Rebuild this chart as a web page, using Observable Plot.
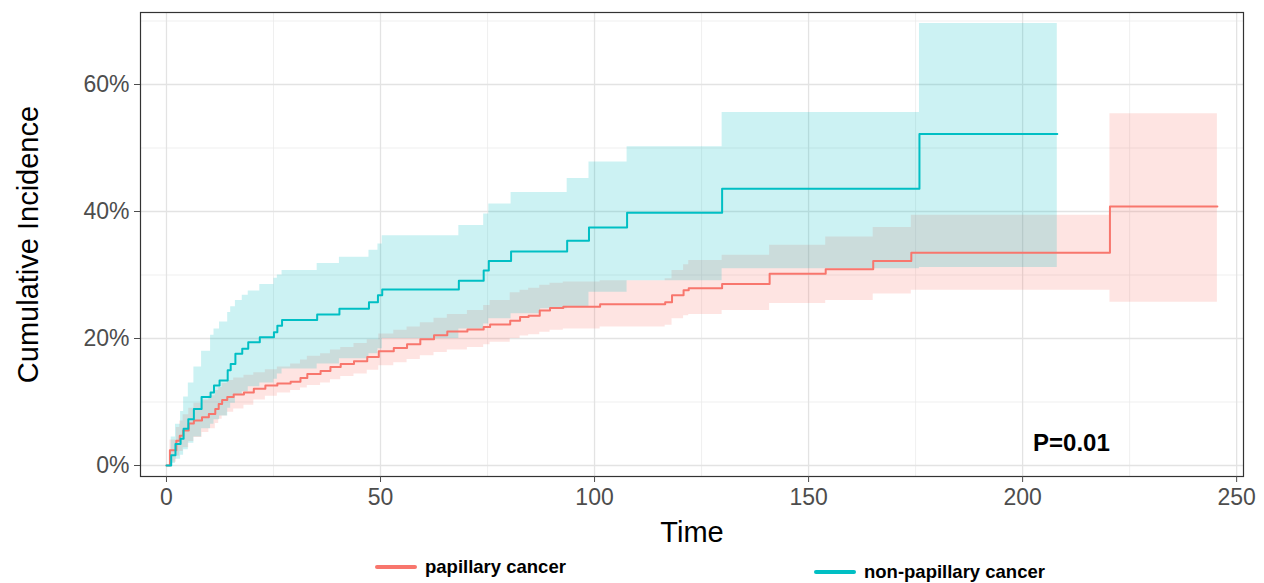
<!DOCTYPE html>
<html><head><meta charset="utf-8">
<script src="https://cdn.jsdelivr.net/npm/d3@7"></script>
<script src="https://cdn.jsdelivr.net/npm/@observablehq/plot@0.6"></script>
<style>
body{margin:0;background:#fff;font-family:Arial,"Liberation Sans",sans-serif;overflow:hidden;}
#chart svg{display:block;}
#legend{position:relative;width:1264px;height:33px;}
.item{position:absolute;display:flex;align-items:center;font-weight:bold;font-size:18.5px;color:#000;line-height:1;}
.swatch{width:42px;height:4px;margin-right:8px;border-radius:2px;}
</style></head><body>
<div id="chart"></div>
<div id="legend"></div>
<script>
const groups = ["papillary cancer", "non-papillary cancer"];
const colors = ["#F8766D", "#00BFC4"];

// papillary cancer
const papTime = [0, 0.8, 2.3, 3.1, 3.9, 5.2, 6.4, 8.3, 9.9, 11.4, 12.2, 13.0, 14.2, 15.7, 18.1, 20.4, 23.1, 25.9, 29.0, 31.3, 32.9, 36.0, 38.3, 40.7, 43.8, 46.9, 49.6, 53.1, 56.2, 59.3, 62.5, 65.6, 70.3, 74.1, 75.6, 80.3, 82.6, 84.6, 87.2, 89.6, 92.7, 101.3, 116.5, 118.1, 120.8, 122.0, 129.8, 140.9, 154.0, 165.1, 174.0, 220.4];
const papEst = [0, 2.4, 3.9, 4.7, 5.5, 6.6, 7.1, 7.6, 8.1, 8.9, 9.7, 10.3, 10.8, 11.2, 11.5, 12.1, 12.6, 12.9, 13.2, 13.8, 14.4, 14.9, 15.5, 16.0, 16.4, 17.1, 18.0, 18.5, 19.1, 19.9, 20.5, 21.1, 21.4, 21.8, 22.2, 22.8, 23.4, 23.6, 24.4, 24.8, 25.0, 25.4, 25.7, 26.8, 27.6, 27.9, 28.6, 30.2, 30.9, 32.2, 33.5, 40.8];
const papLower = [0, 0.5, 1.5, 2.2, 2.8, 3.8, 4.4, 5.2, 5.8, 6.6, 7.3, 7.8, 8.4, 8.9, 9.5, 10.3, 10.9, 11.4, 11.8, 12.2, 12.6, 13.0, 13.5, 14.0, 14.4, 15.0, 15.7, 16.2, 16.7, 17.3, 17.8, 18.2, 18.6, 19.0, 19.4, 20.0, 20.4, 20.6, 21.0, 21.3, 21.5, 21.8, 22.1, 23.1, 23.6, 23.8, 24.4, 25.5, 26.0, 27.0, 27.6, 25.7];
const papUpper = [0, 4.0, 6.0, 7.0, 8.0, 9.0, 9.8, 10.3, 11.0, 11.8, 12.3, 12.9, 13.4, 13.8, 14.2, 14.6, 15.1, 15.5, 16.0, 16.6, 17.2, 17.6, 18.2, 18.6, 19.2, 19.8, 20.7, 21.3, 21.8, 22.5, 23.2, 23.8, 24.4, 25.2, 26.0, 27.2, 27.6, 27.9, 28.4, 28.7, 28.9, 29.1, 29.4, 30.7, 31.6, 32.3, 33.1, 34.7, 36.0, 37.5, 39.4, 55.4];
const papEnd = 245.5;

// non-papillary cancer
const nonTime = [0, 1.1, 2.1, 3.3, 4.0, 5.1, 6.4, 8.2, 10.3, 11.1, 12.4, 14.3, 15.0, 16.1, 17.7, 19.1, 21.8, 25.1, 25.9, 27.0, 35.2, 40.4, 47.3, 49.4, 50.4, 68.3, 74.1, 75.3, 80.5, 87.4, 93.6, 98.7, 107.6, 129.8, 175.9];
const nonEst = [0, 1.6, 3.4, 4.2, 5.8, 7.3, 8.9, 10.8, 11.5, 12.6, 13.4, 15.0, 16.0, 17.6, 18.4, 19.4, 20.2, 21.0, 22.0, 22.9, 23.8, 24.7, 25.7, 26.8, 27.7, 29.1, 30.7, 32.2, 33.7, 33.7, 35.4, 37.5, 39.8, 43.6, 52.2];
const nonLower = [0, 0.3, 1.0, 1.6, 2.5, 3.5, 4.5, 5.8, 6.5, 7.2, 7.8, 9.0, 9.8, 11.0, 11.6, 12.4, 13.0, 13.6, 14.4, 15.2, 16.0, 16.8, 17.6, 18.4, 20.0, 21.5, 22.3, 23.1, 23.9, 24.7, 25.0, 27.3, 29.1, 31.0, 31.2];
const nonUpper = [0, 4.5, 6.5, 8.5, 10.8, 13.0, 15.5, 18.0, 20.5, 21.5, 22.6, 24.1, 25.0, 26.0, 26.8, 27.5, 28.5, 29.5, 30.0, 30.7, 31.8, 32.8, 33.9, 34.9, 36.2, 37.8, 39.6, 41.2, 43.0, 43.0, 45.2, 47.8, 50.2, 55.6, 69.6];
const nonEnd = 208.1;

const xTicks = [0, 50, 100, 150, 200, 250];
const xMinor = [25, 75, 125, 175, 225];
const yTicks = [0, 20, 40, 60];
const yMinor = [10, 30, 50, 70];
const pText = "P=0.01";
const pPos = {time: 211.4, value: 3.5};

function rows(time, est, lo, hi, end, group) {
  const r = time.map((t, i) => ({time: t, est: est[i], lo: lo[i], hi: hi[i], group}));
  const last = r[r.length - 1];
  r.push({...last, time: end});
  return r;
}
const pap = rows(papTime, papEst, papLower, papUpper, papEnd, groups[0]);
const non = rows(nonTime, nonEst, nonLower, nonUpper, nonEnd, groups[1]);

const chart = Plot.plot({
  width: 1264, height: 550,
  marginLeft: 140, marginRight: 21, marginTop: 12, marginBottom: 74,
  style: {fontFamily: "Arial, 'Liberation Sans', sans-serif", background: "#fff"},
  x: {domain: [-6.07, 251.6]},
  y: {domain: [-1.73, 71.34]},
  marks: [
    Plot.gridX(xMinor, {stroke: "#ebebeb", strokeOpacity: 1, strokeWidth: 0.8}),
    Plot.gridY(yMinor, {stroke: "#ebebeb", strokeOpacity: 1, strokeWidth: 0.8}),
    Plot.gridX(xTicks, {stroke: "#e3e3e3", strokeOpacity: 1, strokeWidth: 1.3}),
    Plot.gridY(yTicks, {stroke: "#e3e3e3", strokeOpacity: 1, strokeWidth: 1.3}),
    Plot.areaY(pap, {x: "time", y1: "lo", y2: "hi", fill: colors[0], fillOpacity: 0.2, curve: "step-after"}),
    Plot.areaY(non, {x: "time", y1: "lo", y2: "hi", fill: colors[1], fillOpacity: 0.2, curve: "step-after"}),
    Plot.line(pap, {x: "time", y: "est", stroke: colors[0], strokeWidth: 2, curve: "step-after"}),
    Plot.line(non, {x: "time", y: "est", stroke: colors[1], strokeWidth: 2, curve: "step-after"}),
    Plot.text([pText], {x: () => pPos.time, y: () => pPos.value, fontSize: 24, fontWeight: "bold", fill: "#000"}),
    Plot.frame({stroke: "#333", strokeWidth: 1.2}),
    Plot.axisX({ticks: xTicks, tickSize: 6, tickPadding: 6, fontSize: 23, color: "#4d4d4d", label: null}),
    Plot.axisY({ticks: yTicks, tickSize: 6, tickPadding: 5, fontSize: 23, color: "#4d4d4d", label: null, tickFormat: d => d + "%"}),
    Plot.text(["Time"], {frameAnchor: "bottom", dy: 56, lineAnchor: "middle", fontSize: 29, fill: "#000"}),
    Plot.text(["Cumulative Incidence"], {frameAnchor: "left", dx: -112, rotate: -90, textAnchor: "middle", lineAnchor: "middle", fontSize: 29, fill: "#000"})
  ]
});
document.getElementById("chart").appendChild(chart);

const legend = document.getElementById("legend");
const legendPos = [{left: 375, top: 8}, {left: 814, top: 13}];
groups.forEach((g, i) => {
  const d = document.createElement("div");
  d.className = "item";
  d.style.left = legendPos[i].left + "px";
  d.style.top = legendPos[i].top + "px";
  d.innerHTML = `<span class="swatch" style="background:${colors[i]}"></span><span>${g}</span>`;
  legend.appendChild(d);
});
</script>
</body></html>
